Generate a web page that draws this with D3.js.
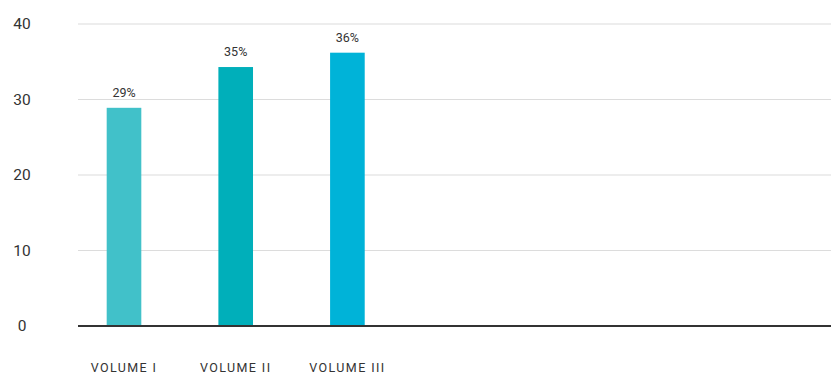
<!DOCTYPE html>
<html>
<head>
<meta charset="utf-8">
<script src="https://cdn.jsdelivr.net/npm/d3@7"></script>
<style>
  html, body { margin: 0; padding: 0; background: #fff; }
  svg { display: block; }
</style>
</head>
<body>
<svg id="chart" width="831" height="376"></svg>
<script>
const categories = ["VOLUME I", "VOLUME II", "VOLUME III"];
const values = [28.9, 34.3, 36.2];
const valueLabels = ["29%", "35%", "36%"];
const barColors = ["#41c1c9", "#00afba", "#00b3d8"];
const yTicks = [0, 10, 20, 30, 40];

const svg = d3.select("#chart");
const plotLeft = 78, plotRight = 831;
const y = d3.scaleLinear().domain([0, 40]).range([326, 24]);
const step = 111.7;
const x = d3.scaleBand().domain(categories)
  .range([124 - step / 2, 124 - step / 2 + step * categories.length])
  .paddingInner(0.69).paddingOuter(0.345);

// gridlines
svg.append("g").selectAll("line").data(yTicks.filter(d => d !== 0)).join("line")
  .attr("x1", plotLeft).attr("x2", plotRight)
  .attr("y1", d => y(d)).attr("y2", d => y(d))
  .attr("stroke", "#dcdcdc").attr("stroke-width", 1.2);

// y tick labels
svg.append("g").selectAll("text").data(yTicks).join("text")
  .attr("x", 22).attr("y", d => y(d)).attr("dy", "0.35em")
  .attr("text-anchor", "middle")
  .attr("font-family", "Roboto, 'Open Sans', sans-serif")
  .attr("font-size", 15.5).attr("fill", "#333")
  .text(d => d);

// bars
svg.append("g").selectAll("rect").data(values).join("rect")
  .attr("x", (d, i) => x(categories[i]))
  .attr("width", x.bandwidth())
  .attr("y", d => y(d))
  .attr("height", d => y(0) - y(d))
  .attr("fill", (d, i) => barColors[i]);

// value labels
svg.append("g").selectAll("text").data(values).join("text")
  .attr("x", (d, i) => x(categories[i]) + x.bandwidth() / 2)
  .attr("y", d => y(d) - 11)
  .attr("text-anchor", "middle")
  .attr("font-family", "Roboto, 'Open Sans', sans-serif")
  .attr("font-size", 12.5).attr("fill", "#333")
  .text((d, i) => valueLabels[i]);

// zero axis line
svg.append("line")
  .attr("x1", plotLeft).attr("x2", plotRight)
  .attr("y1", y(0)).attr("y2", y(0))
  .attr("stroke", "#333").attr("stroke-width", 2);

// category labels
svg.append("g").selectAll("text").data(categories).join("text")
  .attr("x", d => x(d) + x.bandwidth() / 2)
  .attr("y", 372)
  .attr("text-anchor", "middle")
  .attr("font-family", "Roboto, 'Open Sans', sans-serif")
  .attr("font-size", 12.5).attr("fill", "#333")
  .attr("letter-spacing", "1.4px")
  .text(d => d);
</script>
</body>
</html>
